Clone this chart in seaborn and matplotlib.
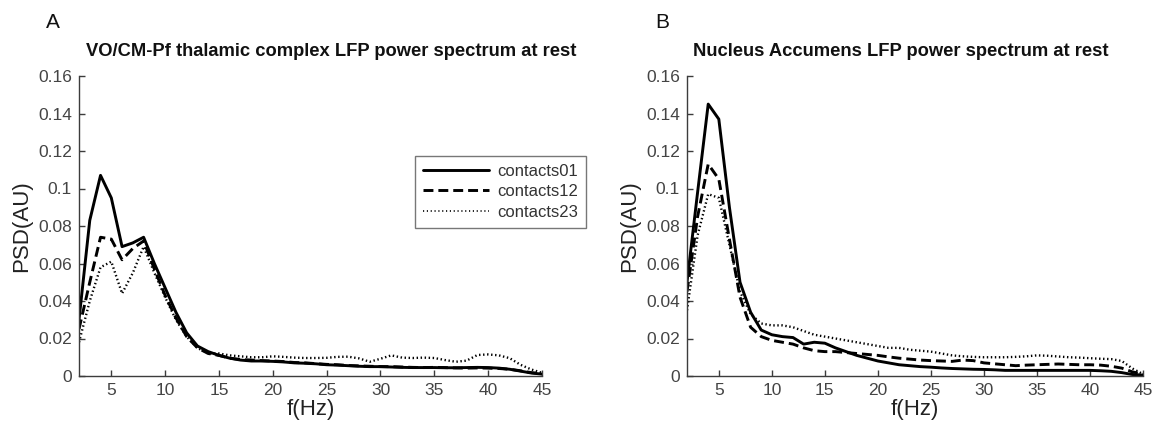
import numpy as np
import pandas as pd
import matplotlib
matplotlib.use("Agg")
import matplotlib.pyplot as plt
import seaborn as sns

# ---------------- data ----------------
freqs = list(range(2, 46))

# Panel A: VO/CM-Pf thalamic complex
a_c01 = [0.030, 0.083, 0.107, 0.095, 0.069, 0.071, 0.074, 0.060, 0.047, 0.034,
         0.023, 0.016, 0.013, 0.011, 0.0095, 0.0085, 0.008, 0.008, 0.0078, 0.0075,
         0.007, 0.0068, 0.0065, 0.006, 0.0058, 0.0055, 0.0052, 0.005, 0.005, 0.0048,
         0.0046, 0.0045, 0.0045, 0.0045, 0.0044, 0.0044, 0.0045, 0.0046, 0.0045, 0.0042,
         0.0036, 0.0026, 0.0016, 0.001]
a_c12 = [0.025, 0.050, 0.074, 0.073, 0.062, 0.068, 0.072, 0.057, 0.043, 0.031,
         0.021, 0.015, 0.012, 0.011, 0.0095, 0.0088, 0.0085, 0.0082, 0.008, 0.0077,
         0.0072, 0.007, 0.0066, 0.0062, 0.006, 0.0056, 0.0054, 0.0052, 0.005, 0.005,
         0.0048, 0.0046, 0.0045, 0.0046, 0.0045, 0.0043, 0.0042, 0.0043, 0.0042, 0.0040,
         0.0036, 0.0028, 0.0018, 0.0012]
a_c23 = [0.018, 0.040, 0.058, 0.061, 0.044, 0.055, 0.069, 0.055, 0.042, 0.030,
         0.021, 0.015, 0.012, 0.012, 0.011, 0.0105, 0.010, 0.010, 0.0105, 0.0102,
         0.0098, 0.0096, 0.0096, 0.0097, 0.0102, 0.0103, 0.0094, 0.0076, 0.0092, 0.011,
         0.0098, 0.0096, 0.0098, 0.0096, 0.0085, 0.0076, 0.0082, 0.0112, 0.0115, 0.011,
         0.0095, 0.006, 0.0035, 0.0017]

# Panel B: Nucleus Accumens
b_c01 = [0.050, 0.098, 0.145, 0.137, 0.090, 0.050, 0.034, 0.0245, 0.022, 0.021,
         0.0205, 0.017, 0.018, 0.0175, 0.015, 0.013, 0.011, 0.0095, 0.008, 0.007,
         0.006, 0.0055, 0.005, 0.0047, 0.0043, 0.004, 0.0038, 0.0036, 0.0035, 0.0033,
         0.003, 0.003, 0.003, 0.003, 0.003, 0.003, 0.003, 0.003, 0.003, 0.0028,
         0.0025, 0.0018, 0.0008, 0.0005]
b_c12 = [0.045, 0.085, 0.113, 0.105, 0.073, 0.042, 0.026, 0.021, 0.019, 0.018,
         0.017, 0.015, 0.0135, 0.013, 0.013, 0.0125, 0.012, 0.0115, 0.011, 0.0102,
         0.0095, 0.009, 0.0085, 0.0082, 0.008, 0.0078, 0.0085, 0.0082, 0.007, 0.0065,
         0.006, 0.0055, 0.0058, 0.006, 0.0062, 0.0064, 0.0062, 0.006, 0.006, 0.0058,
         0.0052, 0.0042, 0.0022, 0.001]
b_c23 = [0.035, 0.075, 0.097, 0.095, 0.070, 0.045, 0.033, 0.028, 0.027, 0.027,
         0.026, 0.024, 0.022, 0.021, 0.020, 0.019, 0.018, 0.017, 0.016, 0.015,
         0.015, 0.014, 0.0135, 0.013, 0.012, 0.011, 0.0105, 0.0102, 0.010, 0.010,
         0.010, 0.0102, 0.0105, 0.011, 0.0108, 0.0104, 0.010, 0.0098, 0.0095, 0.0092,
         0.009, 0.008, 0.004, 0.001]

contacts = ["contacts01", "contacts12", "contacts23"]
titles = ["VO/CM-Pf thalamic complex LFP power spectrum at rest",
          "Nucleus Accumens LFP power spectrum at rest"]
panel_labels = ["A", "B"]
xticks = [5, 10, 15, 20, 25, 30, 35, 40, 45]
yticks = [0, 0.02, 0.04, 0.06, 0.08, 0.10, 0.12, 0.14, 0.16]
yticklabels = ["0", "0.02", "0.04", "0.06", "0.08", "0.1", "0.12", "0.14", "0.16"]


def long_df(series):
    rows = []
    for name, vals in zip(contacts, series):
        for f, v in zip(freqs, vals):
            rows.append({"f": f, "psd": v, "contact": name})
    return pd.DataFrame(rows)


dfA = long_df([a_c01, a_c12, a_c23])
dfB = long_df([b_c01, b_c12, b_c23])

# ---------------- style ----------------
sns.set_style("ticks")
plt.rcParams["font.family"] = ["Liberation Sans", "DejaVu Sans"]
plt.rcParams["xtick.direction"] = "in"
plt.rcParams["ytick.direction"] = "in"

W, H = 1159, 424
fig = plt.figure(figsize=(W / 100, H / 100), dpi=100)
fig.patch.set_facecolor("white")

def fx(px):
    return px / W

def fy(py):
    return 1 - py / H

axA = fig.add_axes([fx(79), fy(376), fx(542) - fx(79), fy(76) - fy(376)])
axB = fig.add_axes([fx(687), fy(376), fx(1143) - fx(687), fy(76) - fy(376)])

dashes = {"contacts01": "", "contacts12": (3.4, 1.7), "contacts23": (0.6, 1.1)}
sizes = {"contacts01": 2.1, "contacts12": 2.1, "contacts23": 1.7}

axis_col = "#3c3c3c"
for ax, df in [(axA, dfA), (axB, dfB)]:
    sns.lineplot(data=df, x="f", y="psd", style="contact", size="contact",
                 sizes=sizes, dashes=dashes, color="black", ax=ax,
                 legend=False, estimator=None)
    ax.set_xlim(2, 45)
    ax.set_ylim(0, 0.16)
    ax.set_xticks(xticks)
    ax.set_yticks(yticks)
    ax.set_yticklabels(yticklabels)
    sns.despine(ax=ax)
    for s in ["left", "bottom"]:
        ax.spines[s].set_color(axis_col)
        ax.spines[s].set_linewidth(1.0)
    ax.tick_params(axis="both", colors=axis_col, labelsize=12.5, length=4,
                   width=1.0, labelcolor="#444444", pad=5)
    ax.set_xlabel("f(Hz)", fontsize=16, color="#222222", labelpad=1)
    ax.set_ylabel("PSD(AU)", fontsize=16, color="#222222", labelpad=4)

# titles and panel labels placed in figure coordinates
fig.text(fx(331), fy(52), titles[0], ha="center", va="center",
         fontsize=13.2, fontweight="bold", color="#111111")
fig.text(fx(901), fy(52), titles[1], ha="center", va="center",
         fontsize=13.2, fontweight="bold", color="#111111")
fig.text(fx(53), fy(23), panel_labels[0], ha="center", va="center",
         fontsize=15, color="#111111")
fig.text(fx(662), fy(23), panel_labels[1], ha="center", va="center",
         fontsize=15, color="#111111")

# legend (panel A)
from matplotlib.lines import Line2D
handles = [
    Line2D([], [], color="black", lw=sizes["contacts01"], linestyle="-"),
    Line2D([], [], color="black", lw=sizes["contacts12"], dashes=dashes["contacts12"]),
    Line2D([], [], color="black", lw=1.2, dashes=(0.7, 1.6)),
]
leg = axA.legend(handles, contacts, loc="upper left",
                 bbox_to_anchor=(fx(415), fy(156)),
                 bbox_transform=fig.transFigure, fontsize=12,
                 handlelength=4.0, handletextpad=0.5, labelspacing=0.35,
                 borderpad=0.45, borderaxespad=0, fancybox=False,
                 frameon=True)
leg.get_frame().set_edgecolor("#555555")
leg.get_frame().set_linewidth(1.0)
for t in leg.get_texts():
    t.set_color("#333333")

fig.savefig("out.png", dpi=100, facecolor="white")
